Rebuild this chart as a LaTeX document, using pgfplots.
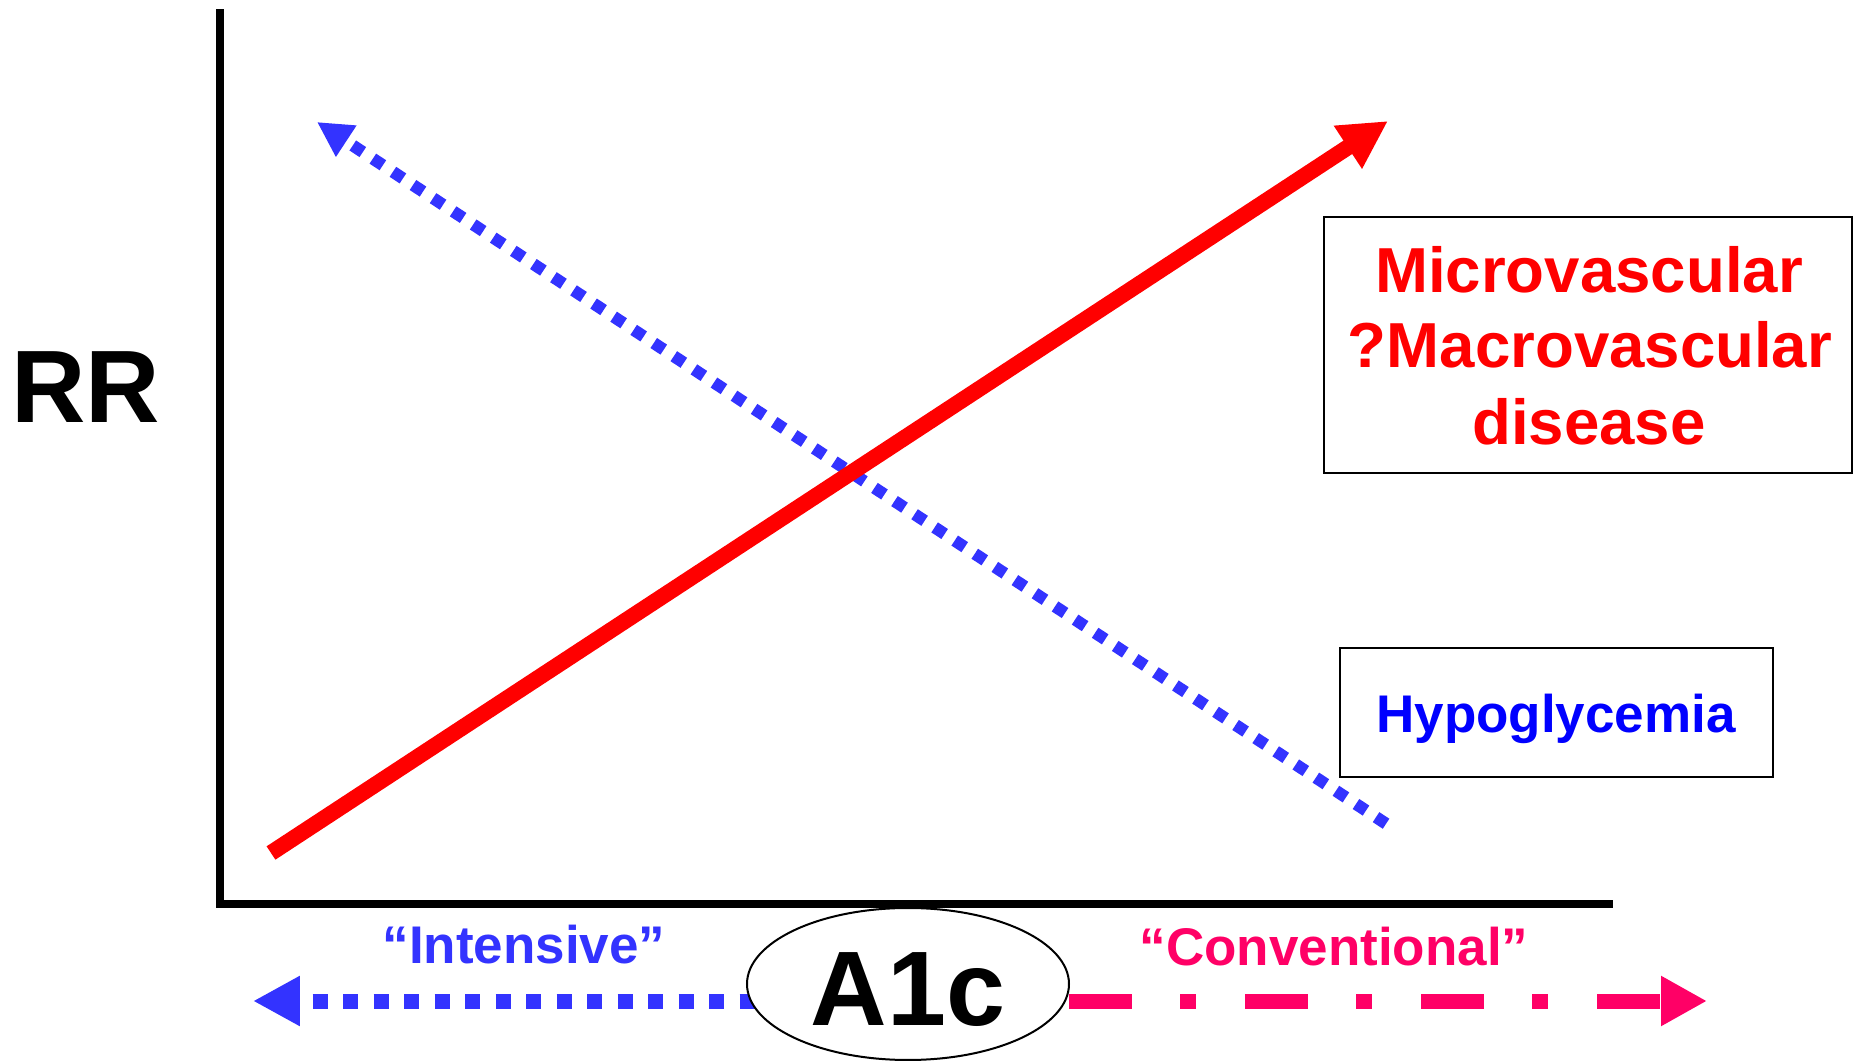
\documentclass[border=0pt]{standalone}
\usepackage{pgfplots}
\pgfplotsset{compat=1.18}
\usetikzlibrary{arrows.meta}
\usepackage{fontspec}
\setmainfont{Liberation Sans}
\definecolor{myred}{HTML}{FF0000}
\definecolor{dotblue}{HTML}{3333FF}
\definecolor{hypoblue}{HTML}{0000FF}
\definecolor{mypink}{HTML}{FF0066}
\begin{document}
\begin{tikzpicture}
\begin{axis}[
  x=0.25pt, y=0.25pt,
  xmin=220.5, xmax=1609, ymin=157, ymax=1048,
  axis x line*=bottom, axis y line*=left,
  axis line style={line width=2pt, -, line cap=rect, black},
  ticks=none,
  clip=false,
]
\coordinate (SW) at (axis cs:0,0);
\coordinate (NE) at (axis cs:1856,1061);
% blue dotted diagonal (hypoglycemia risk)
\addplot[dotblue, line width=3pt, dash pattern=on 3pt off 3pt, dash phase=3.5pt,
  {Triangle[length=8.75pt,width=8.75pt]}-] coordinates {(317,939) (1388,236)};
% red diagonal (micro/macrovascular risk)
\addplot[myred, line width=4pt, -{Triangle[length=12pt,width=12pt]}] coordinates {(271,208) (1388,940)};
% bottom arrows
\addplot[dotblue, line width=3.75pt, dash pattern=on 3.75pt off 3.875pt, dash phase=3.75pt,
  {Triangle[length=11.75pt,width=11.75pt]}-] coordinates {(253,60) (760,60)};
\addplot[mypink, line width=3.75pt, dash pattern=on 15.75pt off 12pt on 4pt off 12.25pt,
  -{Triangle[length=11.5pt,width=11.75pt]}] coordinates {(1069,60) (1707,60)};
% ellipse
\draw[line width=0.5pt, fill=white] (axis cs:908,77) ellipse [x radius=40.25pt, y radius=19pt];
\node[anchor=base, inner sep=0, font=\bfseries\fontsize{26.5}{30}\selectfont] at (axis cs:908,36) {A1c};
% labels
\node[anchor=base, inner sep=0, text=dotblue, font=\bfseries\fontsize{13.25}{16}\selectfont] at (axis cs:524,97) {“Intensive”};
\node[anchor=base, inner sep=0, text=mypink, font=\bfseries\fontsize{13.25}{16}\selectfont] at (axis cs:1334,96) {“Conventional”};
\node[anchor=base, inner sep=0, font=\bfseries\fontsize{25.75}{30}\selectfont] at (axis cs:86,638) {RR};
% boxes
\draw[line width=0.6pt] (axis cs:1324,588) rectangle (axis cs:1852,844);
\node[anchor=base, inner sep=0, text=myred, font=\bfseries\fontsize{15.9}{19}\selectfont] at (axis cs:1589,768) {Microvascular};
\node[anchor=base, inner sep=0, text=myred, font=\bfseries\fontsize{15.9}{19}\selectfont] at (axis cs:1590,693) {?Macrovascular};
\node[anchor=base, inner sep=0, text=myred, font=\bfseries\fontsize{15.9}{19}\selectfont] at (axis cs:1589,616) {disease};
\draw[line width=0.6pt] (axis cs:1340,284) rectangle (axis cs:1773,413);
\node[anchor=base, inner sep=0, text=hypoblue, font=\bfseries\fontsize{13.25}{16}\selectfont] at (axis cs:1556,328) {Hypoglycemia};
\end{axis}
\pgfresetboundingbox
\path[use as bounding box] (SW) rectangle (NE);
\end{tikzpicture}
\end{document}
